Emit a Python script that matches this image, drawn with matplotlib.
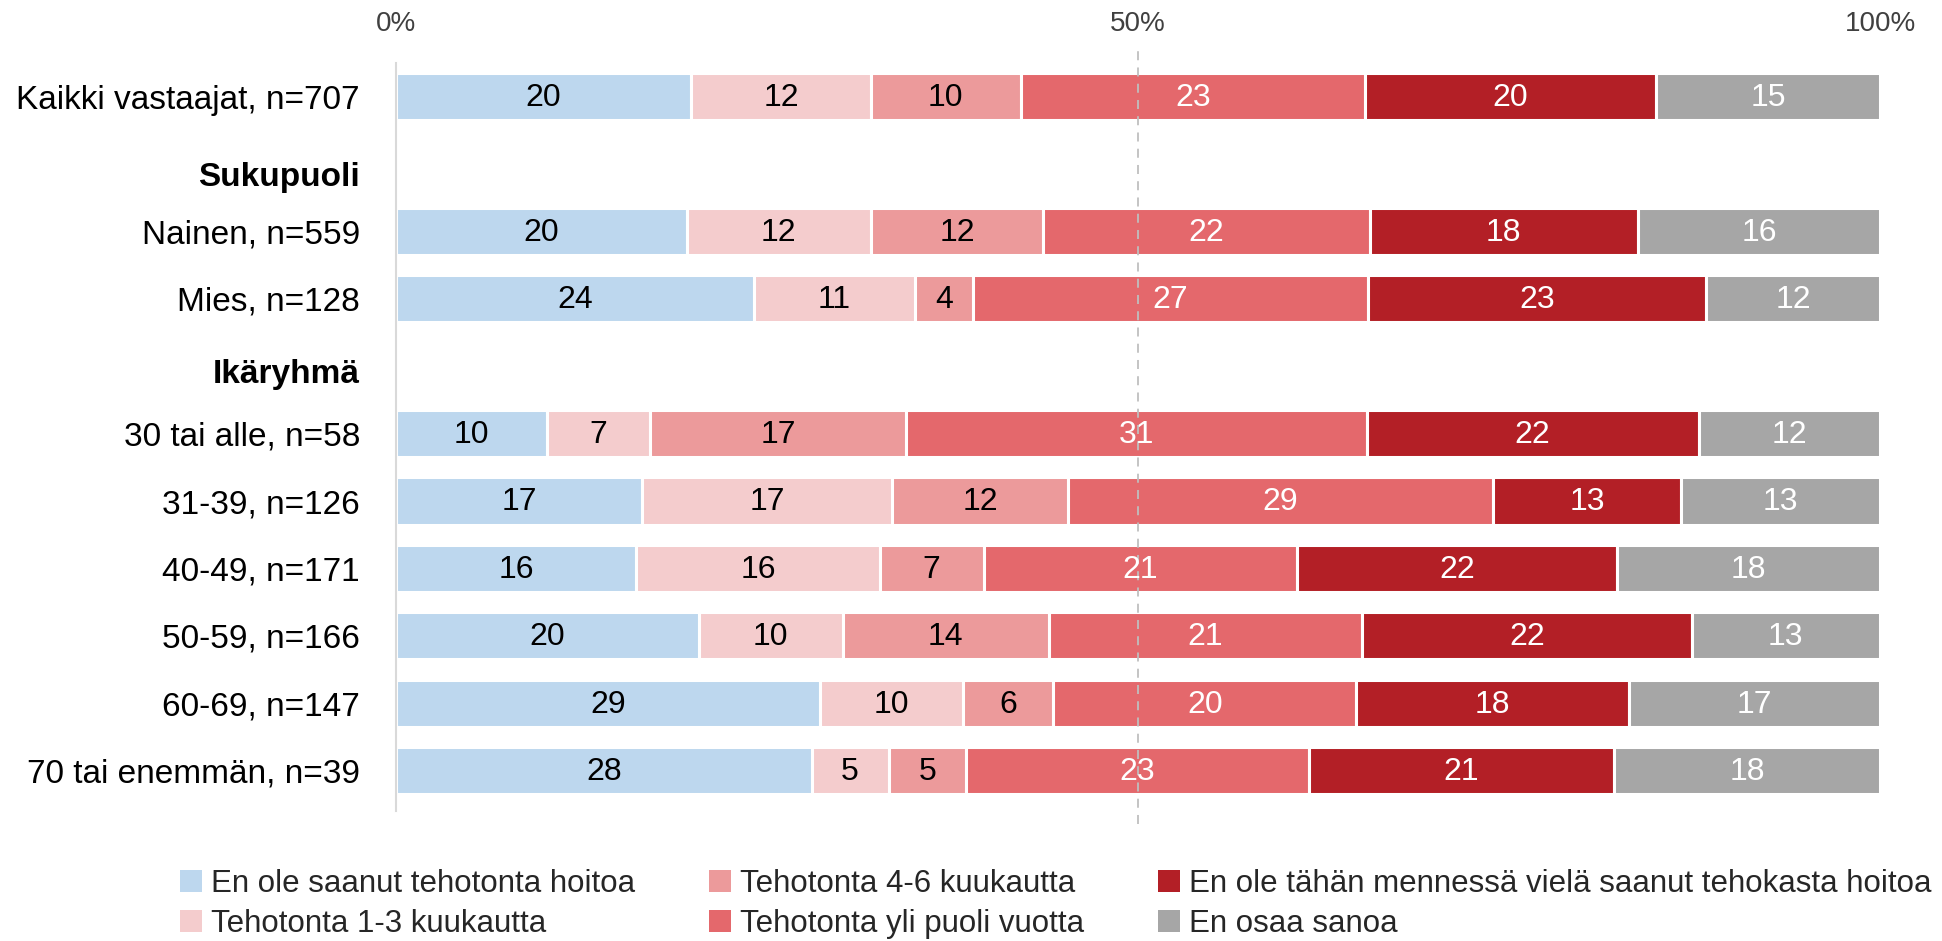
import matplotlib
matplotlib.use("Agg")
import matplotlib.pyplot as plt
from matplotlib.patches import Patch

plt.rcParams['font.family'] = ['Liberation Sans', 'DejaVu Sans']

# ---- data ----
rows = ["Kaikki vastaajat, n=707", "Nainen, n=559", "Mies, n=128",
        "30 tai alle, n=58", "31-39, n=126", "40-49, n=171", "50-59, n=166",
        "60-69, n=147", "70 tai enemmän, n=39"]
headers = ["Sukupuoli", "Ikäryhmä"]
series = ["En ole saanut tehotonta hoitoa", "Tehotonta 1-3 kuukautta",
          "Tehotonta 4-6 kuukautta", "Tehotonta yli puoli vuotta",
          "En ole tähän mennessä vielä saanut tehokasta hoitoa", "En osaa sanoa"]
en_ole_saanut = [19.9, 19.6, 24.1, 10.2, 16.6, 16.2, 20.4, 28.6, 28.0]
teh_1_3 = [12.1, 12.4, 10.9, 6.9, 16.8, 16.4, 9.7, 9.6, 5.2]
teh_4_6 = [10.1, 11.6, 3.9, 17.3, 11.9, 7.0, 13.9, 6.1, 5.2]
teh_yli = [23.2, 22.0, 26.6, 31.0, 28.6, 21.1, 21.1, 20.4, 23.1]
ei_tehokasta = [19.6, 18.1, 22.8, 22.4, 12.7, 21.6, 22.2, 18.4, 20.6]
eos = [15.1, 16.3, 11.7, 12.2, 13.4, 17.7, 12.7, 16.9, 17.9]
xticks = [0, 50, 100]
xticklabels = ["0%", "50%", "100%"]

values = [en_ole_saanut, teh_1_3, teh_4_6, teh_yli, ei_tehokasta, eos]
colors = ["#BDD7EE", "#F4CCCD", "#EC9A9B", "#E4686C", "#B31F26", "#A6A6A6"]
txtcol = ["black", "black", "black", "white", "white", "white"]

# slot positions (header rows occupy slots 1 and 4)
ypos = [0, 2, 3, 5, 6, 7, 8, 9, 10]
hpos = [1.15, 4.07]

W, H = 1942, 941
fig = plt.figure(figsize=(W / 100, H / 100), dpi=100)
ax = fig.add_axes([396 / W, 1 - 811 / H, (1880 - 396) / W, (811 - 63) / H])

left = [0.0] * len(rows)
for s, vals in enumerate(values):
    ax.barh(ypos, vals, left=left, height=0.70, color=colors[s],
            edgecolor="white", linewidth=2.2, label=series[s], zorder=2)
    for y, l, v in zip(ypos, left, vals):
        ax.text(l + v / 2, y + 0.02, f"{int(round(v))}", ha="center", va="center",
                fontsize=23, color=txtcol[s], zorder=4)
    left = [a + b for a, b in zip(left, vals)]

ax.set_xlim(0, 100)
ax.set_ylim(10.6, -0.5)
ax.xaxis.tick_top()
ax.set_xticks(xticks)
ax.set_xticklabels(xticklabels, fontsize=20, color="#404040")
ax.tick_params(axis="x", length=0, pad=19)

yt = ypos + hpos
yl = rows + headers
ax.set_yticks(yt)
ax.set_yticklabels(yl, fontsize=24, color="black")
for t in ax.get_yticklabels():
    if t.get_text() in headers:
        t.set_fontweight("bold")
ax.tick_params(axis="y", length=0, pad=26)

for sp in ["top", "right", "bottom"]:
    ax.spines[sp].set_visible(False)
ax.spines["left"].set_color("#D9D9D9")
ax.spines["left"].set_linewidth(1.5)

ax.axvline(50, ymin=-0.018, ymax=1.018, color="#BFBFBF", linestyle=(0, (5, 4)),
           linewidth=1.3, zorder=3, clip_on=False)

handles = [Patch(facecolor=c, edgecolor="none") for c in colors]
fig.legend(handles, series, ncol=3, loc="upper left",
           bbox_to_anchor=(180 / W, 1 - 869 / H), frameon=False, fontsize=22.5,
           handlelength=0.7, handleheight=0.7, handletextpad=0.3,
           columnspacing=2.35, labelspacing=0.32, labelcolor="#262626",
           borderaxespad=0, borderpad=0)

fig.savefig("out.png", dpi=100)
